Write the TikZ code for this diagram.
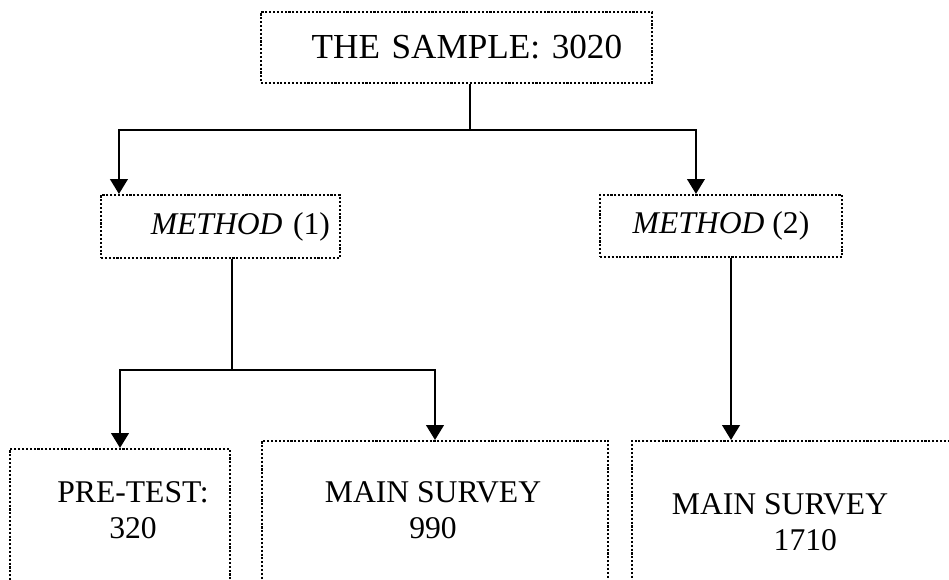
\documentclass[tikz,border=0pt]{standalone}
\usepackage{fontspec}
\setmainfont{Liberation Serif}
\usepackage{tikz}
\usetikzlibrary{arrows.meta}

\begin{document}
\begin{tikzpicture}[x=0.02cm,y=0.02cm,
  dotbox/.style={draw=black,densely dotted,line width=1.2pt,
                 inner sep=0pt,font={\fontsize{18}{20.5}\selectfont}},
  openbox/.style={dotbox,anchor=north,minimum height=114pt},
  txt/.style={align=center,inner sep=0pt,font={\fontsize{18}{20.5}\selectfont}},
  line/.style={line width=1.3pt},
  arr/.style={line,-{Triangle[width=10pt,length=8.5pt]}}]
\useasboundingbox (0,0) rectangle (949,579);
\clip (0,0) rectangle (949,579);
\node[dotbox,minimum width=222.5pt,minimum height=40.4pt,font={\fontsize{20}{22}\selectfont},
      text width=188.5pt,align=right] (S) at (456.5,531.5) {THE SAMPLE: 3020};
\node[dotbox,minimum width=136pt,minimum height=35.8pt,
      text width=124.6pt,align=right] (M1) at (220.5,352.5) {\textit{METHOD} (1)};
\node[dotbox,minimum width=137.7pt,minimum height=35.3pt] (M2) at (721,353) {\textit{METHOD} (2)};
\node[openbox,minimum width=125.2pt] (P)  at (120,131) {};
\node[openbox,minimum width=197pt]   (A1) at (435,139) {};
\node[openbox,minimum width=209.4pt] (A2) at (816,139) {};
\node[txt] (Pt)  at (133,69) {PRE-TEST:\\320};
\node[txt] (A1t) at (433,69) {MAIN SURVEY\\990};
\node[txt] (A2t) at (780,57) {MAIN SURVEY\\\hspace*{1.6em}1710};
\coordinate (J1) at (470,449);
\coordinate (J2) at (232,209);
\draw[line] (S.south -| J1) -- (J1);
\draw[arr] (J1) -| ([xshift=10.8pt]M1.north west);
\draw[arr] (J1) -| ([xshift=55.2pt]M2.north west);
\draw[line] (M1.south -| J2) -- (J2);
\draw[arr] (J2) -| (P.north);
\draw[arr] (J2) -| (A1.north);
\draw[arr] ([xshift=5.7pt]M2.south) -- ([xshift=5.7pt]M2.south |- A2.north);
\end{tikzpicture}
\end{document}
